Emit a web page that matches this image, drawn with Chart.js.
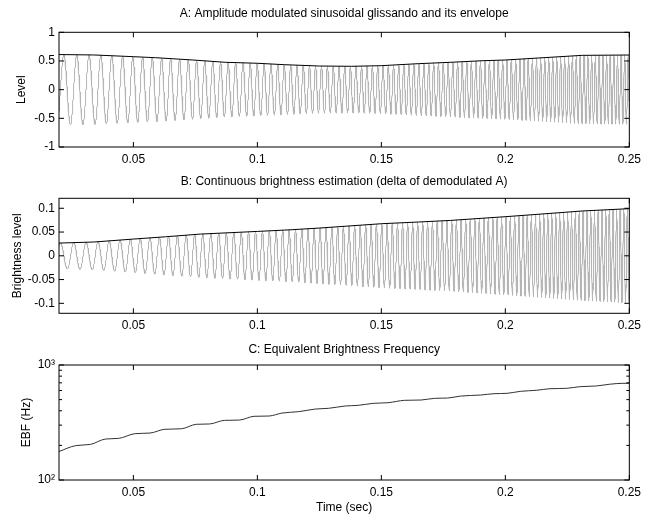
<!DOCTYPE html>
<html>
<head>
<meta charset="utf-8">
<title>Brightness of a sinusoidal glissando</title>
<script src="https://cdn.jsdelivr.net/npm/chart.js@4.4.1/dist/chart.umd.min.js"></script>
<style>
    html, body { margin: 0; padding: 0; background: #fff; }
    #wrap { position: relative; width: 646px; height: 516px; }
    canvas { position: absolute; left: 0; }
</style>
</head>
<body>
<div id="wrap">
    <canvas id="chartA" width="646" height="170" style="top:0px"></canvas>
    <canvas id="chartB" width="646" height="168" style="top:168px"></canvas>
    <canvas id="chartC" width="646" height="180" style="top:336px"></canvas>
</div>
<script>
// time axis (sec), shared by the three panels
const timeMin = 0.02;
const timeMax = 0.25;
const timeTicks = [0.05, 0.1, 0.15, 0.2, 0.25];
const timeTickLabels = ['0.05', '0.1', '0.15', '0.2', '0.25'];

// A: envelope of the glissando
const envATimes = [0.02, 0.034, 0.05, 0.059, 0.074, 0.087, 0.1, 0.111, 0.125, 0.138, 0.15, 0.165, 0.178, 0.191, 0.2, 0.218, 0.231, 0.25];
const envALevel = [0.612, 0.605, 0.575, 0.557, 0.517, 0.477, 0.46, 0.435, 0.412, 0.407, 0.418, 0.453, 0.477, 0.505, 0.517, 0.564, 0.598, 0.604];
const levelTicks = [-1, -0.5, 0, 0.5, 1];
const levelTickLabels = ['-1', '-0.5', '0', '0.5', '1'];

// B: brightness envelope (black line)
const envBTimes = [0.02, 0.034, 0.05, 0.063, 0.077, 0.1, 0.114, 0.125, 0.15, 0.165, 0.178, 0.2, 0.218, 0.231, 0.25];
const envBLevel = [0.0268, 0.029, 0.0352, 0.04, 0.0457, 0.0513, 0.0549, 0.0584, 0.0675, 0.0711, 0.0745, 0.0823, 0.0892, 0.0943, 0.0992];
const brightTicks = [-0.1, -0.05, 0, 0.05, 0.1];
const brightTickLabels = ['-0.1', '-0.05', '0', '0.05', '0.1'];

// C: equivalent brightness frequency (Hz)
const ebfTimes = [0.02, 0.0267, 0.0327, 0.0387, 0.044, 0.0507, 0.0567, 0.0627, 0.0694, 0.0754, 0.0807, 0.0867, 0.0927, 0.0987,
    0.1047, 0.1099, 0.1167, 0.1234, 0.1287, 0.1354, 0.1407, 0.1467, 0.1527, 0.1594, 0.166, 0.1714, 0.1767, 0.182, 0.19,
    0.1954, 0.2007, 0.206, 0.2127, 0.218, 0.2247, 0.23, 0.2367, 0.242, 0.2474, 0.25];
const ebfHz = [177, 199, 204, 227, 230, 253, 256, 276, 279, 305, 307, 330, 332, 358,
    360, 382, 393, 414, 420, 440, 446, 464, 470, 493, 496, 513, 516, 537, 548,
    563, 567, 590, 603, 622, 627, 648, 657, 680, 693, 693];
const ebfTicks = [100, 1000];
const ebfTickLabels = ['10\u00B2', '10\u00B3'];
const ebfMinorTicks = [200, 300, 400, 500, 600, 700, 800, 900];

// starting phase of the two gray carriers at t = 0.02 (rad)
const phaseA = -0.65;
const phaseB = -0.7;

function readAt(xs, ys, t) {
    if (t <= xs[0]) return ys[0];
    for (let i = 1; i < xs.length; i++) {
        if (t <= xs[i]) {
            const k = (t - xs[i - 1]) / (xs[i] - xs[i - 1]);
            return ys[i - 1] + k * (ys[i] - ys[i - 1]);
        }
    }
    return ys[ys.length - 1];
}

// gray carriers: the glissando runs at the read EBF frequency under the read envelopes
const waveA = [];
const waveB = [];
const dt = 0.00004;
let phase = 0;
for (let t = timeMin; t <= timeMax + 1e-9; t += dt) {
    waveA.push({ x: t, y: readAt(envATimes, envALevel, t) * Math.sin(phase + phaseA) });
    waveB.push({ x: t, y: readAt(envBTimes, envBLevel, t) * Math.cos(phase + phaseB) });
    phase += 2 * Math.PI * readAt(ebfTimes, ebfHz, t) * dt;
}

const pairs = (xs, ys) => xs.map((x, i) => ({ x: x, y: ys[i] }));

Chart.defaults.font.family = '"Liberation Sans", Arial, Helvetica, sans-serif';
Chart.defaults.font.size = 12;
Chart.defaults.color = '#000';

// MATLAB-like box, inward ticks and a title centred over the axes
const matlabBox = {
    id: 'matlabBox',
    afterDatasetsDraw(chart, args, opts) {
        const { ctx, chartArea: a, scales: { x, y } } = chart;
        ctx.save();
        ctx.strokeStyle = '#000';
        ctx.lineWidth = 1;
        ctx.beginPath();
        timeTicks.forEach(v => {
            const px = x.getPixelForValue(v);
            ctx.moveTo(px, a.bottom); ctx.lineTo(px, a.bottom - 5);
            ctx.moveTo(px, a.top); ctx.lineTo(px, a.top + 5);
        });
        opts.yMajor.forEach(v => {
            const py = y.getPixelForValue(v);
            ctx.moveTo(a.left, py); ctx.lineTo(a.left + 5, py);
            ctx.moveTo(a.right, py); ctx.lineTo(a.right - 5, py);
        });
        (opts.yMinor || []).forEach(v => {
            const py = y.getPixelForValue(v);
            ctx.moveTo(a.left, py); ctx.lineTo(a.left + 3, py);
            ctx.moveTo(a.right, py); ctx.lineTo(a.right - 3, py);
        });
        ctx.stroke();
        ctx.strokeRect(a.left, a.top, a.right - a.left, a.bottom - a.top);

        ctx.fillStyle = '#000';
        ctx.font = '12px "Liberation Sans", Arial, Helvetica, sans-serif';
        ctx.textAlign = 'center';
        ctx.textBaseline = 'alphabetic';
        ctx.fillText(opts.title, (a.left + a.right) / 2, opts.titleBaseline);
        ctx.restore();
    }
};

function makePanel(canvasId, cfg) {
    return new Chart(document.getElementById(canvasId), {
        type: 'line',
        data: { datasets: cfg.datasets },
        options: {
            responsive: false,
            animation: false,
            devicePixelRatio: 1,
            parsing: false,
            normalized: true,
            events: [],
            layout: { padding: { top: cfg.top, right: 14, left: 0, bottom: 0 } },
            elements: { point: { radius: 0 }, line: { borderWidth: 1 } },
            plugins: {
                legend: { display: false },
                tooltip: { enabled: false },
                matlabBox: { title: cfg.title, titleBaseline: cfg.titleBaseline, yMajor: cfg.yTicks, yMinor: cfg.yMinor }
            },
            scales: {
                x: {
                    type: 'linear',
                    min: timeMin,
                    max: timeMax,
                    grid: { display: false, drawTicks: false },
                    border: { display: false },
                    afterBuildTicks: s => { s.ticks = timeTicks.map(v => ({ value: v })); },
                    afterFit: s => { s.height = cfg.xHeight; },
                    ticks: {
                        padding: 5,
                        maxRotation: 0,
                        autoSkip: false,
                        callback: (v, i) => timeTickLabels[i]
                    },
                    title: cfg.xTitle
                        ? { display: true, text: cfg.xTitle, font: { size: 12 }, padding: { top: 0, bottom: 1 } }
                        : { display: false }
                },
                y: {
                    type: cfg.yType || 'linear',
                    min: cfg.yMin,
                    max: cfg.yMax,
                    grid: { display: false, drawTicks: false },
                    border: { display: false },
                    afterBuildTicks: s => { s.ticks = cfg.yTicks.map(v => ({ value: v })); },
                    afterFit: s => { s.width = 59; },
                    ticks: {
                        padding: 4,
                        autoSkip: false,
                        callback: (v, i) => cfg.yLabels[i]
                    },
                    title: { display: true, text: cfg.yTitle, font: { size: 12 }, padding: { top: cfg.yTitlePad, bottom: 0 } }
                }
            }
        },
        plugins: [matlabBox]
    });
}

makePanel('chartA', {
    title: 'A: Amplitude modulated sinusoidal glissando and its envelope',
    titleBaseline: 16.5,
    top: 32.3,
    xHeight: 23,
    yMin: -1, yMax: 1,
    yTicks: levelTicks, yLabels: levelTickLabels,
    yTitle: 'Level', yTitlePad: 14,
    datasets: [
        { data: pairs(envATimes, envALevel), borderColor: '#000', borderWidth: 1, order: 0 },
        { data: waveA, borderColor: '#b5b5b5', borderWidth: 1, order: 1 }
    ]
});

makePanel('chartB', {
    title: 'B: Continuous brightness estimation (delta of demodulated A)',
    titleBaseline: 17,
    top: 30.3,
    xHeight: 22.7,
    yMin: -0.121, yMax: 0.121,
    yTicks: brightTicks, yLabels: brightTickLabels,
    yTitle: 'Brightness level', yTitlePad: 10,
    datasets: [
        { data: pairs(envBTimes, envBLevel), borderColor: '#000', borderWidth: 1, order: 0 },
        { data: waveB, borderColor: '#b5b5b5', borderWidth: 1, order: 1 }
    ]
});

makePanel('chartC', {
    title: 'C: Equivalent Brightness Frequency',
    titleBaseline: 16.5,
    top: 29,
    xHeight: 36,
    xTitle: 'Time (sec)',
    yType: 'logarithmic',
    yMin: 100, yMax: 1000,
    yTicks: ebfTicks, yLabels: ebfTickLabels, yMinor: ebfMinorTicks,
    yTitle: 'EBF (Hz)', yTitlePad: 19,
    datasets: [
        { data: pairs(ebfTimes, ebfHz), borderColor: '#333', borderWidth: 1, cubicInterpolationMode: 'monotone' }
    ]
});
</script>
</body>
</html>
